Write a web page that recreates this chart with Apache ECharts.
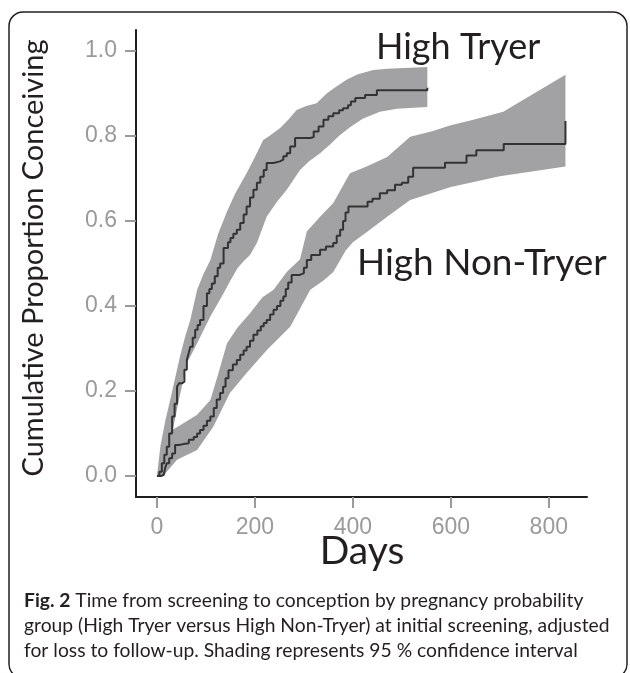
<!DOCTYPE html>
<html>
<head>
<meta charset="utf-8">
<script src="https://cdn.jsdelivr.net/npm/echarts@6/dist/echarts.min.js"></script>
<style>html,body{margin:0;padding:0;background:#fff}#c{width:630px;height:673px}</style>
</head>
<body>
<div id="c"></div>
<script>
// ---- data ----
var xTicks = [0, 200, 400, 600, 800];
var yTicks = [0, 0.2, 0.4, 0.6, 0.8, 1.0];

var tryerDays = [0,5,10,15,20,25,31,36,41,45,51,56,61,65,68,73,78,83,88,95,102,107,112,118,124,129,136,145,150,156,163,170,177,183,190,197,204,211,218,224,238,251,258,265,272,282,313,320,330,340,350,360,372,380,390,396,405,425,449,552];
var tryerProp = [0,0.01,0.03,0.05,0.069,0.1,0.14,0.17,0.21,0.218,0.222,0.25,0.273,0.29,0.304,0.325,0.344,0.355,0.367,0.4,0.43,0.44,0.453,0.47,0.49,0.5,0.536,0.55,0.56,0.57,0.579,0.595,0.615,0.634,0.655,0.673,0.69,0.704,0.72,0.736,0.74,0.744,0.752,0.759,0.775,0.795,0.797,0.81,0.822,0.838,0.846,0.853,0.86,0.865,0.872,0.881,0.889,0.896,0.907,0.913];

var tryerUpDays = [0,7,17,27,37,47,58,68,82,95,109,125,143,160,183,200,217,230,251,270,285,305,326,347,365,387,410,442,470,552];
var tryerUp = [0,0.07,0.13,0.179,0.23,0.281,0.33,0.367,0.438,0.475,0.508,0.57,0.622,0.665,0.712,0.75,0.79,0.8,0.818,0.84,0.861,0.87,0.877,0.9,0.915,0.932,0.945,0.955,0.958,0.962];
var tryerLoDays = [0,10,20,31,45,61,82,109,136,150,165,177,190,204,224,245,265,292,310,333,354,372,394,420,455,490,552];
var tryerLo = [0,0.005,0.022,0.1,0.18,0.265,0.312,0.375,0.43,0.46,0.49,0.505,0.52,0.548,0.61,0.645,0.673,0.72,0.74,0.759,0.78,0.8,0.82,0.84,0.857,0.864,0.868];

var nonDays = [0,8,14,17,20,25,31,37,45,54,65,75,82,88,95,102,109,116,122,129,135,140,146,155,163,170,177,183,190,197,205,212,218,224,231,238,245,252,258,263,268,275,292,300,306,315,333,345,360,367,374,380,385,391,430,440,455,470,486,500,513,523,588,632,652,708,834];
var nonProp = [0,0.003,0.006,0.02,0.03,0.042,0.053,0.073,0.075,0.077,0.085,0.092,0.1,0.108,0.118,0.13,0.14,0.16,0.18,0.195,0.21,0.23,0.249,0.262,0.273,0.285,0.295,0.304,0.318,0.332,0.342,0.352,0.36,0.367,0.38,0.391,0.4,0.412,0.422,0.44,0.455,0.473,0.477,0.49,0.508,0.52,0.532,0.54,0.548,0.565,0.579,0.6,0.62,0.634,0.645,0.652,0.665,0.672,0.685,0.69,0.704,0.725,0.737,0.754,0.766,0.781,0.835];

var nonUpDays = [0,10,20,31,54,82,109,125,143,165,190,215,238,265,292,306,333,360,394,428,470,517,560,600,646,707,834];
var nonUp = [0,0.053,0.085,0.108,0.124,0.144,0.179,0.24,0.312,0.35,0.383,0.42,0.438,0.48,0.51,0.575,0.61,0.642,0.712,0.728,0.75,0.798,0.81,0.825,0.838,0.857,0.944];
var nonLoDays = [0,17,41,82,115,149,183,224,272,295,313,340,360,385,400,430,470,517,600,700,834];
var nonLo = [0,0.006,0.038,0.061,0.116,0.195,0.242,0.296,0.351,0.4,0.438,0.46,0.48,0.53,0.55,0.575,0.61,0.649,0.68,0.705,0.728];

var labelTryer = 'High Tryer';
var labelNon = 'High Non-Tryer';
var xTitle = 'Days';
var yTitle = 'Cumulative Proportion Conceiving';
var caption = [
  '{b|Fig. 2} Time from screening to conception by pregnancy probability',
  'group (High Tryer versus High Non-Tryer) at initial screening, adjusted',
  'for loss to follow-up. Shading represents 95 % confidence interval'
];

// ---- build ----
function pairs(xs, ys) { return xs.map(function (x, i) { return [x, ys[i]]; }); }

function bandSeries(upX, upY, loX, loY) {
  return {
    type: 'custom',
    z: 1,
    data: [[0, 0]],
    renderItem: function (params, api) {
      var pts = [];
      for (var i = 0; i < upX.length; i++) pts.push(api.coord([upX[i], upY[i]]));
      for (var j = loX.length - 1; j >= 0; j--) pts.push(api.coord([loX[j], loY[j]]));
      return { type: 'polygon', shape: { points: pts }, style: { fill: '#a2a2a5', stroke: null } };
    },
    silent: true
  };
}

var chart = echarts.init(document.getElementById('c'), null, { renderer: 'canvas' });
var titleFont = 'Lato, "Open Sans", sans-serif';
var capSize = '19.3px ';
chart.setOption({
  animation: false,
  backgroundColor: '#ffffff',
  grid: { left: 136, right: 43, top: 30, bottom: 176, containLabel: false },
  xAxis: {
    type: 'value', min: -42.8, max: 878,
    axisLine: { show: true, onZero: false, lineStyle: { color: '#1e1e1e', width: 2 } },
    axisTick: { show: true, customValues: xTicks, length: 11, lineStyle: { color: '#9a9a9a', width: 2 } },
    axisLabel: { customValues: xTicks, color: '#9a9a9a', fontSize: 23, fontFamily: '"Liberation Sans", Arial, sans-serif', margin: 19 },
    splitLine: { show: false }
  },
  yAxis: {
    type: 'value', min: -0.0494, max: 1.049,
    axisLine: { show: true, onZero: false, lineStyle: { color: '#1e1e1e', width: 2 } },
    axisTick: { show: true, customValues: yTicks, length: 11, lineStyle: { color: '#9a9a9a', width: 2 } },
    axisLabel: { customValues: yTicks, color: '#9a9a9a', fontSize: 23, fontFamily: '"Liberation Sans", Arial, sans-serif', margin: 19,
      formatter: function (v) { return v.toFixed(1); } },
    splitLine: { show: false }
  },
  series: [
    bandSeries(tryerUpDays, tryerUp, tryerLoDays, tryerLo),
    bandSeries(nonUpDays, nonUp, nonLoDays, nonLo),
    { type: 'line', step: 'end', z: 3, showSymbol: false, data: pairs(tryerDays, tryerProp),
      lineStyle: { color: '#333333', width: 2 } },
    { type: 'line', step: 'end', z: 3, showSymbol: false, data: pairs(nonDays, nonProp),
      lineStyle: { color: '#333333', width: 2 } }
  ],
  graphic: [
    { type: 'rect', shape: { x: 9, y: 12, width: 618, height: 666, r: 14 },
      style: { fill: null, stroke: '#231f20', lineWidth: 1.5 }, z: 100 },
    { type: 'text', x: 376, y: 47, z: 100,
      style: { text: labelTryer, font: '36px ' + titleFont, fill: '#231f20', textAlign: 'left', textVerticalAlign: 'middle' } },
    { type: 'text', x: 357, y: 263, z: 100,
      style: { text: labelNon, font: '37px ' + titleFont, fill: '#231f20', textAlign: 'left', textVerticalAlign: 'middle' } },
    { type: 'text', x: 362, y: 551, z: 100,
      style: { text: xTitle, font: '39px ' + titleFont, fill: '#231f20', textAlign: 'center', textVerticalAlign: 'middle' } },
    { type: 'text', x: 34, y: 258, rotation: Math.PI / 2, z: 100,
      style: { text: yTitle, font: '29px ' + titleFont, fill: '#231f20', textAlign: 'center', textVerticalAlign: 'middle' } },
    { type: 'text', x: 24, y: 601, z: 100,
      style: { text: caption[0], font: capSize + titleFont, fill: '#231f20', textAlign: 'left', textVerticalAlign: 'middle',
        rich: { b: { font: 'bold ' + capSize + titleFont, fill: '#231f20' } } } },
    { type: 'text', x: 24, y: 626, z: 100,
      style: { text: caption[1], font: capSize + titleFont, fill: '#231f20', textAlign: 'left', textVerticalAlign: 'middle' } },
    { type: 'text', x: 24, y: 651, z: 100,
      style: { text: caption[2], font: capSize + titleFont, fill: '#231f20', textAlign: 'left', textVerticalAlign: 'middle' } }
  ]
});
</script>
</body>
</html>
